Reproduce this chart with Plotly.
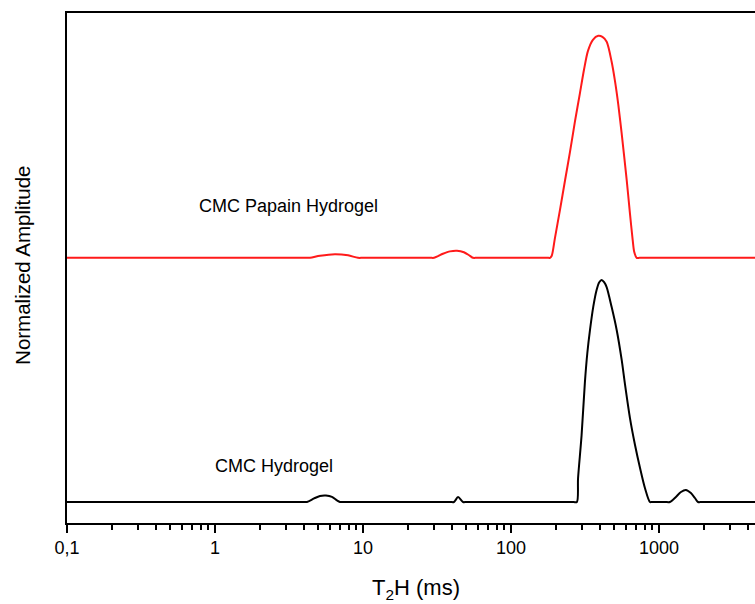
import plotly.graph_objects as go

# ---- data ----
# CMC Hydrogel (black) : T2 (ms) and normalized amplitude
t2_cmc = [0.1, 1.0, 3.9, 4.18, 4.67, 5.12, 5.62, 6.17, 6.67, 6.99, 7.5,
          20, 39, 41.2, 43.9, 47.4, 50,
          150, 265, 279, 284, 300, 316, 328, 342, 360, 379, 395, 410, 426, 443, 479, 518, 560,
          589, 637, 689, 745, 804, 869, 900,
          1100, 1186, 1302, 1408, 1521, 1644, 1750, 1836, 1950, 5000]
amp_cmc = [0, 0, 0, 0, 0.016, 0.027, 0.029, 0.023, 0.007, 0, 0,
           0, 0, 0, 0.022, 0, 0,
           0, 0, 0, 0.107, 0.30, 0.54, 0.67, 0.775, 0.88, 0.955, 0.99, 1.0, 0.99, 0.968, 0.878, 0.775, 0.64,
           0.532, 0.378, 0.257, 0.153, 0.063, 0, 0,
           0, 0, 0.023, 0.045, 0.054, 0.04, 0.018, 0, 0, 0]

# CMC Papain Hydrogel (red)
t2_pap = [0.1, 1.0, 4.1, 4.39, 5.12, 6.47, 7.93, 9.25, 10,
          20, 28.5, 30.2, 34.7, 38.7, 43.2, 48.1, 52.8, 55.4, 59,
          120, 176, 183.6, 188.6, 198.3, 214.4, 231.7, 250.5, 270.5, 292.7, 311.5, 331.4, 357.8, 389.0,
          415, 443.4, 478.9, 504.3, 531.4, 560.0, 605.2, 637.2, 664.3, 680.3, 706.8, 740,
          1500, 5000]
amp_pap = [0, 0, 0, 0, 0.009, 0.016, 0.011, 0, 0,
           0, 0, 0, 0.018, 0.029, 0.032, 0.025, 0.009, 0, 0,
           0, 0, 0, 0.009, 0.09, 0.216, 0.347, 0.477, 0.613, 0.743, 0.847, 0.932, 0.982, 1.0,
           0.995, 0.973, 0.883, 0.797, 0.689, 0.559, 0.351, 0.198, 0.081, 0.027, 0, 0,
           0, 0]

papain_offset = 1.1

tick_vals = [0.1, 1, 10, 100, 1000]
tick_text = ["0,1", "1", "10", "100", "1000"]
minor_vals = [m * d for d in [0.1, 1, 10, 100] for m in range(2, 10)] + [2000, 3000, 4000]

FONT = "Arial, Liberation Sans, sans-serif"

fig = go.Figure()
fig.add_trace(go.Scatter(
    x=t2_cmc, y=amp_cmc, mode="lines",
    line=dict(color="#000000", width=2, shape="spline", smoothing=0.8),
    name="CMC Hydrogel", showlegend=False))
fig.add_trace(go.Scatter(
    x=t2_pap, y=[a + papain_offset for a in amp_pap], mode="lines",
    line=dict(color="#ff1a1a", width=2, shape="spline", smoothing=0.8),
    name="CMC Papain Hydrogel", showlegend=False))

fig.update_layout(
    width=755, height=604,
    margin=dict(l=67, r=0, t=13, b=81),
    paper_bgcolor="white", plot_bgcolor="white",
    font=dict(family=FONT, color="black"),
    xaxis=dict(
        type="log", range=[-1, 3.649],
        tickvals=tick_vals, ticktext=tick_text,
        ticks="outside", ticklen=8, tickwidth=1.5, tickcolor="black",
        tickfont=dict(size=18, family=FONT, color="black"),
        showline=True, linecolor="black", linewidth=1.5, mirror=True,
        showgrid=False, zeroline=False,
        minor=dict(tickvals=minor_vals, ticks="outside", ticklen=5,
                   tickwidth=1.5, tickcolor="black", showgrid=False),
    ),
    yaxis=dict(
        range=[-0.0946, 2.2027],
        showticklabels=False, ticks="",
        showline=True, linecolor="black", linewidth=1.5,
        showgrid=False, zeroline=False,
    ),
    annotations=[
        dict(text="CMC Papain Hydrogel", xref="x", yref="y",
             x=-0.1216, y=1.333, xanchor="left", yanchor="middle",
             showarrow=False, font=dict(size=18, family=FONT, color="black")),
        dict(text="CMC Hydrogel", xref="x", yref="y",
             x=-0.0135, y=0.162, xanchor="left", yanchor="middle",
             showarrow=False, font=dict(size=18, family=FONT, color="black")),
        dict(text="T<sub>2</sub>H (ms)", xref="paper", yref="paper",
             x=0.507, y=-0.129, xanchor="center", yanchor="middle",
             showarrow=False, font=dict(size=22, family=FONT, color="black")),
        dict(text="Normalized Amplitude", xref="paper", yref="paper",
             x=-0.064, y=0.506, xanchor="center", yanchor="middle", textangle=-90,
             showarrow=False, font=dict(size=20.5, family=FONT, color="black")),
    ],
)

fig.write_html("out.html")
